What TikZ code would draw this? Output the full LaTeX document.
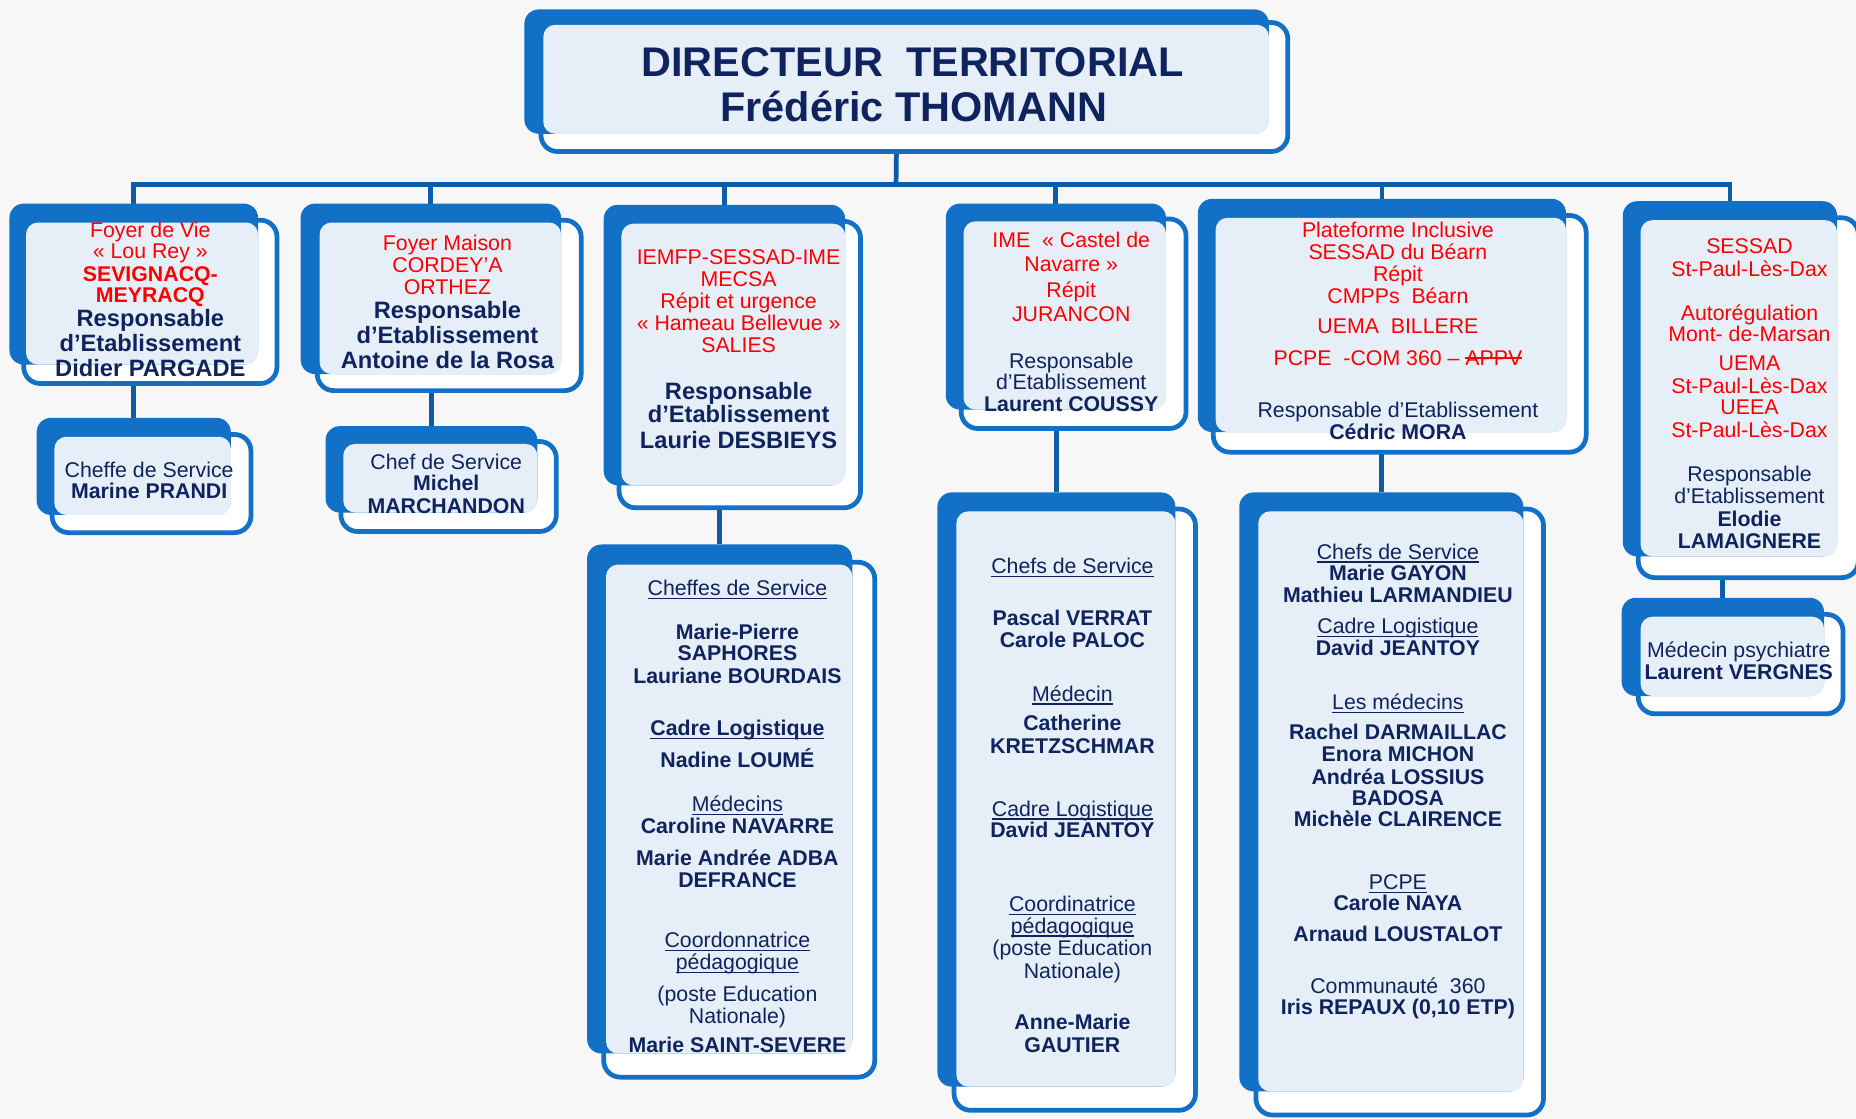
\documentclass[tikz,border=0pt]{standalone}
\usepackage{fontspec}
\setmainfont{Liberation Sans}
\definecolor{cblue}{HTML}{1270C6}
\definecolor{clink}{HTML}{0E5CA6}
\definecolor{clight}{HTML}{E6EEF8}
\definecolor{cnavy}{HTML}{0F245E}
\definecolor{cred}{HTML}{FF0000}
\definecolor{cbg}{HTML}{F7F7F7}
\pgfdeclarelayer{bglayer}
\pgfdeclarelayer{linelayer}
\pgfsetlayers{bglayer,linelayer,main}
\newcommand\uln[1]{\setbox0\hbox{#1}\rlap{\raisebox{-3pt}{\rule{\wd0}{1.1pt}}}\box0}
\newcommand\strk[1]{\setbox0\hbox{#1}\rlap{\raisebox{5.5pt}{\rule{\wd0}{1.2pt}}}\box0}
\tikzset{
  outerbox/.style={draw=cblue, line width=4pt, fill=white, rounded corners=14pt, inner sep=0pt, outer sep=0pt},
  bluebox/.style={fill=cblue, rounded corners=12pt, inner sep=0pt, outer sep=0pt},
  link/.style={draw=clink, line width=4pt},
  txt/.style={inner sep=0pt, outer sep=0pt, anchor=base},
  rt/.style={txt, text=cred, font=\fontsize{18}{20}\selectfont, yshift=-6.4pt},
  rb/.style={txt, text=cred, font=\fontsize{18}{20}\selectfont\bfseries, yshift=-6.4pt},
  nt/.style={txt, text=cnavy, font=\fontsize{18}{20}\selectfont, yshift=-6.4pt},
  nb/.style={txt, text=cnavy, font=\fontsize{18}{20}\selectfont\bfseries, yshift=-6.4pt},
  nB/.style={txt, text=cnavy, font=\fontsize{20}{22}\selectfont\bfseries, yshift=-7.2pt},
  ttl/.style={txt, text=cnavy, font=\fontsize{35}{38}\selectfont\bfseries, yshift=-12.5pt},
}
\newcommand\orgbox[9]{%
  \node[outerbox, minimum width={(#8-#6-4)*1pt}, minimum height={(#9-#7-4)*1pt}] (#1o) at ({(#6+#8)/2},{(#7+#9)/2}) {};
  \node[bluebox, minimum width={(#4-#2)*1pt}, minimum height={(#5-#3)*1pt}] (#1) at ({(#2+#4)/2},{(#3+#5)/2}) {};
  \fill[clight, rounded corners=10pt] ({#6+4},{#7+4}) rectangle (#4,#5);
}
\newcommand\tline[5]{\node[#4] (#1) at (#2,#3) {#5};}
\begin{document}
\begin{tikzpicture}[x=1pt,y=-1pt]
\useasboundingbox (0,0) rectangle (1568,945);
\begin{pgfonlayer}{bglayer}
\fill[cbg] (0,0) rectangle (1568,945);
\end{pgfonlayer}

% ---- top
\orgbox{top}{443}{8}{1072}{113}{455}{17}{1090}{130}
\tline{t1}{771}{52}{ttl}{DIRECTEUR\ \ TERRITORIAL}
\tline{t2}{772}{90}{ttl}{Frédéric THOMANN}

% ---- A
\orgbox{A}{8}{172}{218}{308}{18}{184}{236}{326}
\tline{a1}{127}{194}{rt}{Foyer de Vie}
\tline{a2}{127}{212}{rt}{« Lou Rey »}
\tline{a3}{127}{231}{rb}{SEVIGNACQ-}
\tline{a4}{127}{249}{rb}{MEYRACQ}
\tline{a5}{127}{269}{nB}{Responsable}
\tline{a6}{127}{290}{nB}{d’Etablissement}
\tline{a7}{127}{311}{nB}{Didier PARGADE}

\orgbox{AA}{31}{353}{195}{435}{42}{365}{214}{452}
\tline{aa1}{126}{397}{nt}{Cheffe de Service}
\tline{aa2}{126}{415}{nb}{Marine PRANDI}

% ---- B
\orgbox{B}{254}{172}{474}{316}{266}{184}{493}{332}
\tline{b1}{378}{205}{rt}{Foyer Maison}
\tline{b2}{378}{224}{rt}{CORDEY’A}
\tline{b3}{378}{242}{rt}{ORTHEZ}
\tline{b4}{378}{262}{nB}{Responsable}
\tline{b5}{378}{283}{nB}{d’Etablissement}
\tline{b6}{378}{304}{nB}{Antoine de la Rosa}

\orgbox{BB}{275}{360}{454}{433}{286}{371}{472}{451}
\tline{bb1}{377}{390}{nt}{Chef de Service}
\tline{bb2}{377}{408}{nb}{Michel}
\tline{bb3}{377}{427}{nb}{MARCHANDON}

% ---- C
\orgbox{C}{510}{173}{714}{410}{521}{185}{729}{431}
\tline{c1}{624}{217}{rt}{IEMFP-SESSAD-IME}
\tline{c2}{624}{236}{rt}{MECSA}
\tline{c3}{624}{254}{rt}{Répit et urgence}
\tline{c4}{624}{273}{rt}{« Hameau Bellevue »}
\tline{c5}{624}{291}{rt}{SALIES}
\tline{c6}{624}{330}{nB}{Responsable}
\tline{c7}{624}{350}{nB}{d’Etablissement}
\tline{c8}{624}{372}{nB}{Laurie DESBIEYS}

\orgbox{CC}{496}{460}{720}{890}{508}{473}{741}{912}
\tline{cc1}{623}{497}{nt}{\uln{Cheffes de Service}}
\tline{cc2}{623}{534}{nb}{Marie-Pierre}
\tline{cc3}{623}{552}{nb}{SAPHORES}
\tline{cc4}{623}{571}{nb}{Lauriane BOURDAIS}
\tline{cc5}{623}{615}{nb}{\uln{Cadre Logistique}}
\tline{cc6}{623}{642}{nb}{Nadine LOUMÉ}
\tline{cc7}{623}{679}{nt}{\uln{Médecins}}
\tline{cc8}{623}{698}{nb}{Caroline NAVARRE}
\tline{cc9}{623}{725}{nb}{Marie Andrée ADBA}
\tline{cc10}{623}{743}{nb}{DEFRANCE}
\tline{cc11}{623}{794}{nt}{\uln{Coordonnatrice}}
\tline{cc12}{623}{813}{nt}{\uln{pédagogique}}
\tline{cc13}{623}{840}{nt}{(poste Education}
\tline{cc14}{623}{858}{nt}{Nationale)}
\tline{cc15}{623}{883}{nb}{Marie SAINT-SEVERE}

% ---- D
\orgbox{D}{799}{172}{985}{346}{810}{183}{1004}{364}
\tline{d1}{905}{203}{rt}{IME\ \ « Castel de}
\tline{d2}{905}{223}{rt}{Navarre »}
\tline{d3}{905}{245}{rt}{Répit}
\tline{d4}{905}{265}{rt}{JURANCON}
\tline{d5}{905}{305}{nt}{Responsable}
\tline{d6}{905}{323}{nt}{d’Etablissement}
\tline{d7}{905}{341}{nb}{Laurent COUSSY}

\orgbox{DD}{792}{416}{993}{918}{804}{428}{1012}{940}
\tline{dd1}{906}{478}{nt}{\uln{Chefs de Service}}
\tline{dd2}{906}{522}{nb}{Pascal VERRAT}
\tline{dd3}{906}{541}{nb}{Carole PALOC}
\tline{dd4}{906}{586}{nt}{\uln{Médecin}}
\tline{dd5}{906}{611}{nb}{Catherine}
\tline{dd6}{906}{630}{nb}{KRETZSCHMAR}
\tline{dd7}{906}{683}{nt}{\uln{Cadre Logistique}}
\tline{dd8}{906}{701}{nb}{David JEANTOY}
\tline{dd9}{906}{764}{nt}{\uln{Coordinatrice}}
\tline{dd10}{906}{782}{nt}{\uln{pédagogique}}
\tline{dd11}{906}{801}{nt}{(poste Education}
\tline{dd12}{906}{820}{nt}{Nationale)}
\tline{dd13}{906}{863}{nb}{Anne-Marie}
\tline{dd14}{906}{883}{nb}{GAUTIER}

% ---- E
\orgbox{E}{1012}{168}{1323}{365}{1023}{180}{1342}{384}
\tline{e1}{1181}{194}{rt}{Plateforme Inclusive}
\tline{e2}{1181}{213}{rt}{SESSAD du Béarn}
\tline{e3}{1181}{231}{rt}{Répit}
\tline{e4}{1181}{250}{rt}{CMPPs\ \ Béarn}
\tline{e5}{1181}{275}{rt}{UEMA\ \ BILLERE}
\tline{e6}{1181}{302}{rt}{PCPE\ \ -COM 360 – \strk{APPV}}
\tline{e7}{1181}{346}{nt}{Responsable d’Etablissement}
\tline{e8}{1181}{365}{nb}{Cédric MORA}

\orgbox{EE}{1047}{416}{1287}{922}{1059}{428}{1306}{944}
\tline{ee1}{1181}{466}{nt}{\uln{Chefs de Service}}
\tline{ee2}{1181}{484}{nb}{Marie GAYON}
\tline{ee3}{1181}{503}{nb}{Mathieu LARMANDIEU}
\tline{ee4}{1181}{529}{nt}{\uln{Cadre Logistique}}
\tline{ee5}{1181}{547}{nb}{David JEANTOY}
\tline{ee6}{1181}{593}{nt}{\uln{Les médecins}}
\tline{ee7}{1181}{618}{nb}{Rachel DARMAILLAC}
\tline{ee8}{1181}{637}{nb}{Enora MICHON}
\tline{ee9}{1181}{656}{nb}{Andréa LOSSIUS}
\tline{ee10}{1181}{674}{nb}{BADOSA}
\tline{ee11}{1181}{692}{nb}{Michèle CLAIRENCE}
\tline{ee12}{1181}{745}{nt}{\uln{PCPE}}
\tline{ee13}{1181}{763}{nb}{Carole NAYA}
\tline{ee14}{1181}{789}{nb}{Arnaud LOUSTALOT}
\tline{ee15}{1181}{833}{nt}{Communauté\ \ 360}
\tline{ee16}{1181}{851}{nb}{Iris REPAUX (0,10 ETP)}

% ---- F
\orgbox{F}{1371}{170}{1552}{470}{1382}{182}{1572}{490}
\tline{f1}{1478}{208}{rt}{SESSAD}
\tline{f2}{1478}{227}{rt}{St-Paul-Lès-Dax}
\tline{f3}{1478}{264}{rt}{Autorégulation}
\tline{f4}{1478}{282}{rt}{Mont- de-Marsan}
\tline{f5}{1478}{307}{rt}{UEMA}
\tline{f6}{1478}{326}{rt}{St-Paul-Lès-Dax}
\tline{f7}{1478}{344}{rt}{UEEA}
\tline{f8}{1478}{363}{rt}{St-Paul-Lès-Dax}
\tline{f9}{1478}{400}{nt}{Responsable}
\tline{f10}{1478}{419}{nt}{d’Etablissement}
\tline{f11}{1478}{438}{nb}{Elodie}
\tline{f12}{1478}{457}{nb}{LAMAIGNERE}

\orgbox{FF}{1370}{505}{1541}{588}{1382}{517}{1559}{605}
\tline{ff1}{1469}{549}{nt}{Médecin psychiatre}
\tline{ff2}{1469}{568}{nb}{Laurent VERGNES}

% ---- connectors
\begin{pgfonlayer}{linelayer}
\coordinate (bar) at (757,156);
\draw[link] (top.south) -- (bar);
\foreach \n in {A,B,C,D,E,F} {
  \draw[link] (bar) -| (\n.north);
}
\foreach \p/\c in {A/AA,B/BB,C/CC,D/DD,E/EE,F/FF} {
  \draw[link] (\c.north) -- (\c.north |- \p.south);
}
\end{pgfonlayer}
\end{tikzpicture}
\end{document}
